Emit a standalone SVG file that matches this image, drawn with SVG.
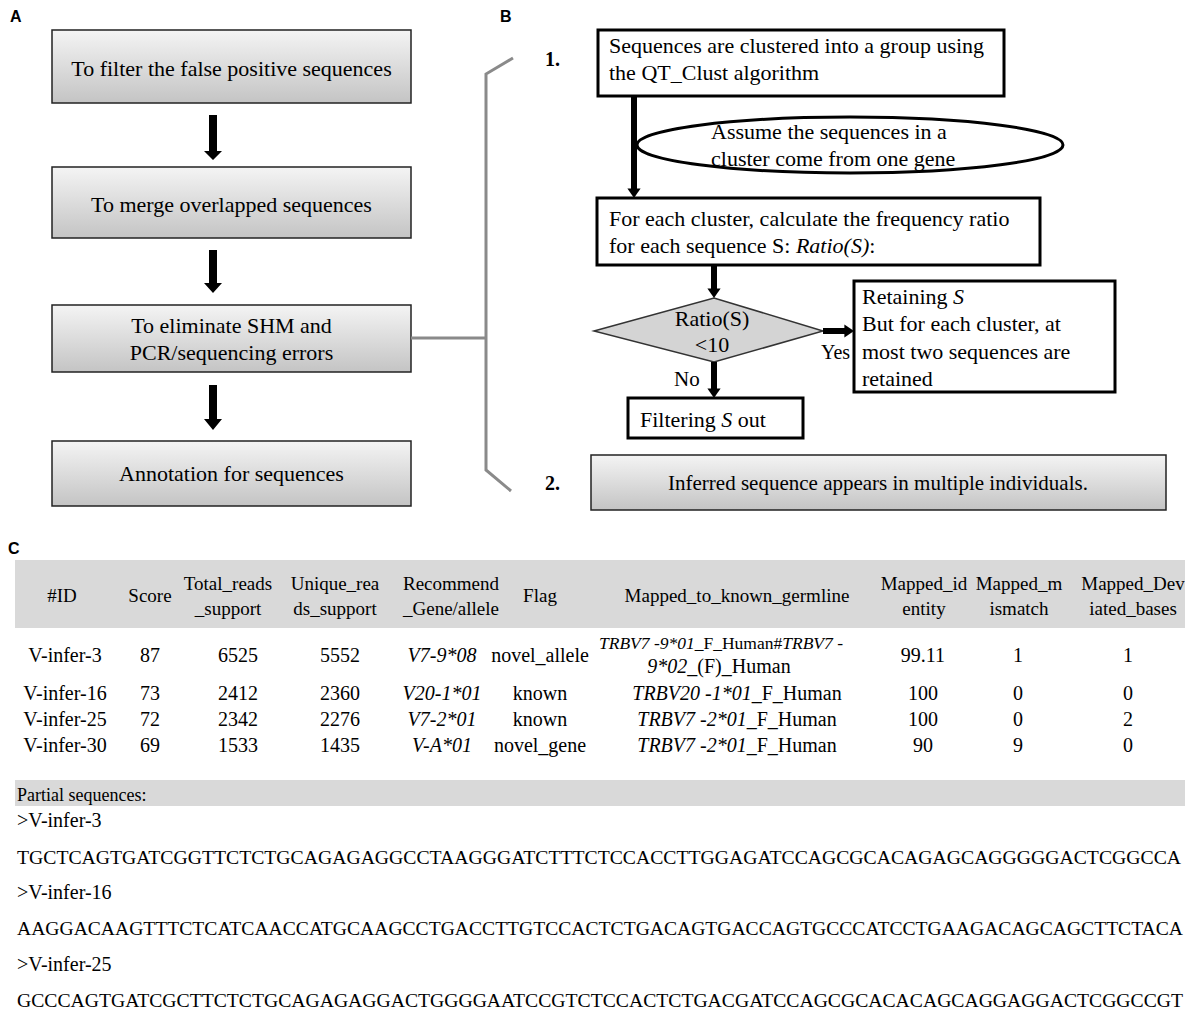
<svg xmlns="http://www.w3.org/2000/svg" width="1192" height="1019" viewBox="0 0 1192 1019">
<defs>
<linearGradient id="g" x1="0" y1="0" x2="0" y2="1">
<stop offset="0" stop-color="#f4f4f4"/>
<stop offset="1" stop-color="#c4c4c4"/>
</linearGradient>
<marker id="ah" markerWidth="2" markerHeight="2.2" refX="0.6" refY="1.1" orient="auto" markerUnits="strokeWidth">
<path d="M0,0 L1.6,1.1 L0,2.2 z" fill="#000"/>
</marker>
<clipPath id="tc"><rect x="0" y="0" width="1185" height="1019"/></clipPath>
</defs>
<style>
.lbl{font-family:"Liberation Sans",Arial,sans-serif;font-weight:bold;font-size:16px;fill:#000}
.t{font-family:"Liberation Serif","Times New Roman",serif;fill:#000}
.a{font-size:22px;text-anchor:middle}
.b{font-size:22px}
.h{font-size:19px;text-anchor:middle}
.r{font-size:20px;text-anchor:middle}
.s{font-size:20px}
.q{font-size:19.5px}
.num{font-size:20px;font-weight:bold}
.gbox{fill:url(#g);stroke:#222;stroke-width:1.5}
.wbox{fill:#fff;stroke:#000;stroke-width:3}
.arr{stroke:#000;stroke-width:6;fill:none;marker-end:url(#ah)}
.brk{stroke:#8a8a8a;stroke-width:3;fill:none}
</style>

<text class="lbl" x="10" y="22">A</text>
<text class="lbl" x="500" y="22">B</text>
<text class="lbl" x="8" y="554">C</text>

<g id="a1"><rect class="gbox" x="52" y="30" width="359" height="73"/><text class="t a" x="231.5" y="76">To filter the false positive sequences</text></g>
<g id="a2"><rect class="gbox" x="52" y="167" width="359" height="71"/><text class="t a" x="231.5" y="212">To merge overlapped  sequences</text></g>
<g id="a3"><rect class="gbox" x="52" y="305" width="359" height="67"/><text class="t a" x="231.5" y="333">To eliminate SHM and</text><text class="t a" x="231.5" y="360">PCR/sequencing errors</text></g>
<g id="a4"><rect class="gbox" x="52" y="441" width="359" height="65"/><text class="t a" x="231.5" y="481">Annotation for sequences</text></g>

<g id="b1"><rect class="wbox" x="598" y="30" width="406" height="66"/><text class="t b" x="609" y="53">Sequences are clustered into a group using</text><text class="t b" x="609" y="80">the QT_Clust algorithm</text></g>
<g id="b-ellipse"><ellipse cx="850" cy="145" rx="213" ry="28" fill="none" stroke="#000" stroke-width="3"/><text class="t b" x="711" y="139">Assume the sequences in a</text><text class="t b" x="711" y="166">cluster come from one gene</text></g>
<g id="b2"><rect class="wbox" x="597" y="198" width="443" height="67"/><text class="t b" x="609" y="226">For each cluster, calculate the frequency ratio</text><text class="t b" x="609" y="253">for each sequence S: <tspan font-style="italic">Ratio(S)</tspan>:</text></g>
<g id="b-diamond"><polygon points="594,331 714,298 823,331 714,362" fill="#d4d4d4" stroke="#333" stroke-width="1.5"/><text class="t a" x="712" y="326">Ratio(S)</text><text class="t a" x="712" y="352">&lt;10</text></g>
<g id="b-retain"><rect class="wbox" x="854" y="281" width="261" height="111"/><text class="t b" x="862" y="304">Retaining <tspan font-style="italic">S</tspan></text><text class="t b" x="862" y="331">But for each cluster, at</text><text class="t b" x="862" y="359">most two sequences are</text><text class="t b" x="862" y="386">retained</text></g>
<g id="b-filter"><rect class="wbox" x="628" y="398" width="175" height="40"/><text class="t b" x="640" y="427">Filtering  <tspan font-style="italic">S</tspan>  out</text></g>
<g id="b-inferred"><rect class="gbox" x="591" y="455" width="575" height="55"/><text class="t" font-size="21" text-anchor="middle" x="878" y="490">Inferred sequence appears in multiple individuals.</text></g>
<text class="t num" x="545" y="66">1.</text>
<text class="t num" x="545" y="490">2.</text>
<text class="t" font-size="20" x="821" y="359">Yes</text>
<text class="t" font-size="21" x="674" y="386">No</text>

<g id="connectors">
<path class="brk" d="M411,338 H486 M513,58 L486,74 V470 L511,491"/>
<path d="M209,115 h8 v36 h5 l-9,9 l-9,-9 h5 z" fill="#000"/>
<path d="M209,250 h8 v33 h5 l-9,10 l-9,-10 h5 z" fill="#000"/>
<path d="M209,385 h8 v34 h5 l-9,11 l-9,-11 h5 z" fill="#000"/>
<line class="arr" x1="634" y1="96" x2="634" y2="192"/>
<line class="arr" x1="714" y1="265" x2="714" y2="292"/>
<line class="arr" x1="823" y1="331" x2="848" y2="331"/>
<line class="arr" x1="714" y1="362" x2="714" y2="392"/>
</g>

<g id="table">
<rect x="15" y="560" width="1170" height="68" fill="#d9d9d9"/>
<g clip-path="url(#tc)">
<text class="t h" x="62" y="602">#ID</text>
<text class="t h" x="150" y="602">Score</text>
<text class="t h" x="228" y="590">Total_reads</text><text class="t h" x="228" y="615">_support</text>
<text class="t h" x="335" y="590">Unique_rea</text><text class="t h" x="335" y="615">ds_support</text>
<text class="t h" x="451" y="590">Recommend</text><text class="t h" x="451" y="615">_Gene/allele</text>
<text class="t h" x="540" y="602">Flag</text>
<text class="t h" x="737" y="602">Mapped_to_known_germline</text>
<text class="t h" x="924" y="590">Mapped_id</text><text class="t h" x="924" y="615">entity</text>
<text class="t h" x="1019" y="590">Mapped_m</text><text class="t h" x="1019" y="615">ismatch</text>
<text class="t h" x="1133" y="590">Mapped_Dev</text><text class="t h" x="1133" y="615">iated_bases</text>
</g>
<g id="row1">
<text class="t r" x="65" y="662">V-infer-3</text><text class="t r" x="150" y="662">87</text><text class="t r" x="238" y="662">6525</text><text class="t r" x="340" y="662">5552</text><text class="t r" x="442" y="662" font-style="italic">V7-9*08</text><text class="t r" x="540" y="662">novel_allele</text>
<text class="t" font-size="17.5" text-anchor="middle" x="721" y="649"><tspan font-style="italic">TRBV7 -9*01</tspan>_F_Human#<tspan font-style="italic">TRBV7 -</tspan></text><text class="t r" x="719" y="673"><tspan font-style="italic">9*02</tspan>_(F)_Human</text>
<text class="t r" x="923" y="662">99.11</text><text class="t r" x="1018" y="662">1</text><text class="t r" x="1128" y="662">1</text>
</g>
<g id="row2">
<text class="t r" x="65" y="700">V-infer-16</text><text class="t r" x="150" y="700">73</text><text class="t r" x="238" y="700">2412</text><text class="t r" x="340" y="700">2360</text><text class="t r" x="442" y="700" font-style="italic">V20-1*01</text><text class="t r" x="540" y="700">known</text>
<text class="t r" x="737" y="700"><tspan font-style="italic">TRBV20 -1*01</tspan>_F_Human</text>
<text class="t r" x="923" y="700">100</text><text class="t r" x="1018" y="700">0</text><text class="t r" x="1128" y="700">0</text>
</g>
<g id="row3">
<text class="t r" x="65" y="726">V-infer-25</text><text class="t r" x="150" y="726">72</text><text class="t r" x="238" y="726">2342</text><text class="t r" x="340" y="726">2276</text><text class="t r" x="442" y="726" font-style="italic">V7-2*01</text><text class="t r" x="540" y="726">known</text>
<text class="t r" x="737" y="726"><tspan font-style="italic">TRBV7 -2*01</tspan>_F_Human</text>
<text class="t r" x="923" y="726">100</text><text class="t r" x="1018" y="726">0</text><text class="t r" x="1128" y="726">2</text>
</g>
<g id="row4">
<text class="t r" x="65" y="752">V-infer-30</text><text class="t r" x="150" y="752">69</text><text class="t r" x="238" y="752">1533</text><text class="t r" x="340" y="752">1435</text><text class="t r" x="442" y="752" font-style="italic">V-A*01</text><text class="t r" x="540" y="752">novel_gene</text>
<text class="t r" x="737" y="752"><tspan font-style="italic">TRBV7 -2*01</tspan>_F_Human</text>
<text class="t r" x="923" y="752">90</text><text class="t r" x="1018" y="752">9</text><text class="t r" x="1128" y="752">0</text>
</g>
</g>

<g id="sequences">
<rect x="15" y="780" width="1170" height="26" fill="#d9d9d9"/>
<text class="t" font-size="18" x="17" y="801">Partial sequences:</text>
<text class="t s" x="17" y="827">&gt;V-infer-3</text>
<text class="t q" x="17" y="864" textLength="1164" lengthAdjust="spacingAndGlyphs">TGCTCAGTGATCGGTTCTCTGCAGAGAGGCCTAAGGGATCTTTCTCCACCTTGGAGATCCAGCGCACAGAGCAGGGGGACTCGGCCA</text>
<text class="t s" x="17" y="899">&gt;V-infer-16</text>
<text class="t q" x="17" y="935" textLength="1166" lengthAdjust="spacingAndGlyphs">AAGGACAAGTTTCTCATCAACCATGCAAGCCTGACCTTGTCCACTCTGACAGTGACCAGTGCCCATCCTGAAGACAGCAGCTTCTACA</text>
<text class="t s" x="17" y="971">&gt;V-infer-25</text>
<text class="t q" x="17" y="1007" textLength="1166" lengthAdjust="spacingAndGlyphs">GCCCAGTGATCGCTTCTCTGCAGAGAGGACTGGGGAATCCGTCTCCACTCTGACGATCCAGCGCACACAGCAGGAGGACTCGGCCGT</text>
</g>
</svg>
